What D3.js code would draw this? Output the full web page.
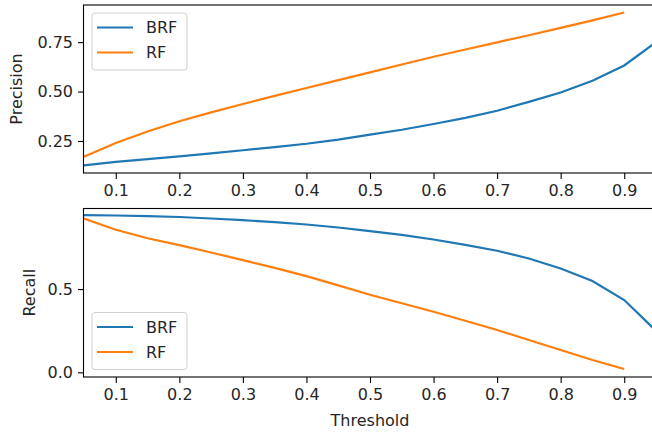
<!DOCTYPE html>
<html>
<head>
<meta charset="utf-8">
<script src="https://cdn.jsdelivr.net/npm/d3@7"></script>
<style>
  body { margin: 0; background: #fff; }
  text { font-family: "DejaVu Sans", sans-serif; fill: #262626; }
</style>
</head>
<body>
<div id="chart"></div>
<script>
// datos
const thresholds = [0.05, 0.1, 0.15, 0.2, 0.25, 0.3, 0.35, 0.4, 0.45, 0.5,
                    0.55, 0.6, 0.65, 0.7, 0.75, 0.8, 0.85, 0.9, 0.95];
const precisionBRF = [0.127, 0.144, 0.158, 0.172, 0.187, 0.203, 0.219, 0.236, 0.257, 0.282,
                      0.307, 0.336, 0.367, 0.403, 0.448, 0.495, 0.555, 0.632, 0.75];
const precisionRF = [0.17, 0.24, 0.298, 0.35, 0.395, 0.437, 0.478, 0.518, 0.558, 0.597,
                     0.637, 0.676, 0.713, 0.749, 0.785, 0.822, 0.86, 0.90];
const recallBRF = [0.944, 0.942, 0.938, 0.933, 0.924, 0.914, 0.902, 0.888, 0.87, 0.848,
                   0.826, 0.798, 0.766, 0.73, 0.684, 0.624, 0.548, 0.434, 0.25];
const recallRF = [0.924, 0.856, 0.805, 0.764, 0.72, 0.674, 0.627, 0.578, 0.522, 0.466,
                  0.415, 0.364, 0.31, 0.254, 0.194, 0.134, 0.074, 0.02];
const xTicks = [0.1, 0.2, 0.3, 0.4, 0.5, 0.6, 0.7, 0.8, 0.9];
const precisionTicks = [0.25, 0.5, 0.75];
const recallTicks = [0, 0.5];
const seriesNames = ["BRF", "RF"];

const W = 652, H = 432;
const colores = ["#1f77b4", "#ff7f0e"];

const svg = d3.select("#chart").append("svg")
  .attr("width", W).attr("height", H);

const x = d3.scaleLinear().domain([0.05, 0.95]).range([84, 656]);

const panel = (cfg) => {
  const y = d3.scaleLinear().domain(cfg.domain).range([cfg.bottom, cfg.top]);
  const g = svg.append("g");

  g.append("clipPath").attr("id", cfg.id)
    .append("rect")
    .attr("x", x.range()[0]).attr("y", cfg.top)
    .attr("width", x.range()[1] - x.range()[0]).attr("height", cfg.bottom - cfg.top);

  const line = d3.line().x((d) => x(d[0])).y((d) => y(d[1]));
  cfg.series.forEach((vals, i) => {
    g.append("path")
      .datum(vals.map((v, j) => [thresholds[j], v]))
      .attr("d", line)
      .attr("fill", "none")
      .attr("stroke", colores[i])
      .attr("stroke-width", 2.2)
      .attr("clip-path", "url(#" + cfg.id + ")");
  });

  // ejes
  const ax = g.append("g")
    .attr("transform", "translate(0," + cfg.bottom + ")")
    .call(d3.axisBottom(x).tickValues(xTicks).tickFormat(d3.format(".1f")).tickSize(6).tickPadding(6));
  const ay = g.append("g")
    .attr("transform", "translate(" + x.range()[0] + ",0)")
    .call(d3.axisLeft(y).tickValues(cfg.ticks).tickFormat(d3.format(cfg.fmt)).tickSize(6).tickPadding(5));
  [ax, ay].forEach((a) => {
    a.select(".domain").remove();
    a.selectAll("line").attr("stroke", "#000").attr("stroke-width", 1.1);
    a.selectAll("text").style("font-size", "16px").attr("fill", "#262626");
  });

  g.append("rect")
    .attr("x", x.range()[0] - 0.5).attr("y", cfg.top)
    .attr("width", x.range()[1] - x.range()[0]).attr("height", cfg.bottom - cfg.top)
    .attr("fill", "none").attr("stroke", "#000").attr("stroke-width", 1.1);

  g.append("text")
    .attr("transform", "translate(" + cfg.labelX + "," + (cfg.top + cfg.bottom) / 2 + ") rotate(-90)")
    .attr("text-anchor", "middle")
    .style("font-size", "16px")
    .text(cfg.label);

  // leyenda
  const lg = g.append("g").attr("transform", "translate(92," + cfg.legendY + ")");
  lg.append("rect")
    .attr("width", 95).attr("height", 57).attr("rx", 3)
    .attr("fill", "#fff").attr("fill-opacity", 0.8)
    .attr("stroke", "#d0d0d0").attr("stroke-width", 1);
  seriesNames.forEach((n, i) => {
    const yy = 14.5 + i * 25;
    lg.append("line")
      .attr("x1", 5).attr("x2", 41).attr("y1", yy).attr("y2", yy)
      .attr("stroke", colores[i]).attr("stroke-width", 2.2);
    lg.append("text")
      .attr("x", 54).attr("y", yy).attr("dy", "0.36em")
      .style("font-size", "16px")
      .text(n);
  });
};

panel({ id: "c1", top: 5, bottom: 173, domain: [0.088, 0.938], series: [precisionBRF, precisionRF],
        ticks: precisionTicks, fmt: ".2f", label: "Precision", labelX: 22, legendY: 13 });
panel({ id: "c2", top: 208.5, bottom: 377, domain: [-0.028, 0.984], series: [recallBRF, recallRF],
        ticks: recallTicks, fmt: ".1f", label: "Recall", labelX: 35, legendY: 312.5 });

svg.append("text")
  .attr("x", (x.range()[0] + x.range()[1]) / 2).attr("y", 426)
  .attr("text-anchor", "middle")
  .style("font-size", "16px")
  .text("Threshold");
</script>
</body>
</html>
